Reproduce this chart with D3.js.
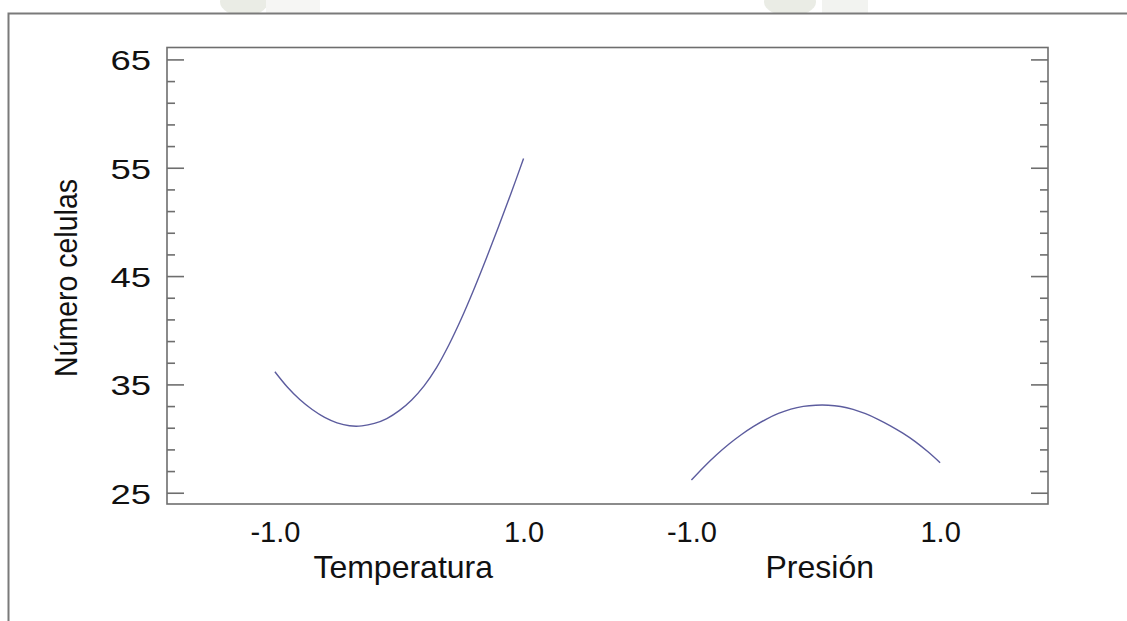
<!DOCTYPE html>
<html>
<head>
<meta charset="utf-8">
<script src="https://cdn.jsdelivr.net/npm/d3@7"></script>
<style>
  html, body { margin: 0; padding: 0; background: #fff; }
  svg { display: block; }
  text { font-family: "Liberation Sans", Arial, sans-serif; fill: #111; }
</style>
</head>
<body>
<svg id="chart" width="1127" height="621"></svg>
<script>
// Factors shown side by side, each over its coded range -1 .. 1
const factors = ["Temperatura", "Presión"];
const codedX = [-1.0, -0.9, -0.8, -0.7, -0.6, -0.5, -0.4, -0.3, -0.2, -0.1, 0.0,
                 0.1, 0.2, 0.3, 0.4, 0.5, 0.6, 0.7, 0.8, 0.9, 1.0];

// Predicted response along each factor
const tempValues = [36.17, 34.76, 33.60, 32.68, 31.95, 31.45, 31.18, 31.17, 31.40, 31.85, 32.58,
                    33.57, 34.87, 36.55, 38.66, 41.08, 43.76, 46.62, 49.60, 52.66, 55.86];
const presValues = [26.17, 27.38, 28.48, 29.47, 30.35, 31.12, 31.78, 32.32, 32.72, 32.97, 33.08,
                    33.08, 32.96, 32.70, 32.30, 31.78, 31.18, 30.50, 29.72, 28.80, 27.77];

const yMajorTicks = [25, 35, 45, 55, 65];
const yMinorTicks = [27, 29, 31, 33, 37, 39, 41, 43, 47, 49, 51, 53, 57, 59, 61, 63];
const xTickLabels = ["-1.0", "1.0"];
const yTitle = "Número celulas";

const svg = d3.select("#chart");
const W = 1127, H = 621;
const plot = { left: 167, top: 47.5, right: 1048, bottom: 504 };

// faint watermark remnants above the frame
const wm = svg.append("g").attr("opacity", 0.55);
wm.append("ellipse").attr("cx", 244).attr("cy", 2).attr("rx", 24).attr("ry", 14).attr("fill", "#d9ddd0");
wm.append("rect").attr("x", 266).attr("y", 0).attr("width", 54).attr("height", 13).attr("fill", "#f0f0ec");
wm.append("ellipse").attr("cx", 790).attr("cy", 2).attr("rx", 26).attr("ry", 14).attr("fill", "#d9ddd0");
wm.append("rect").attr("x", 822).attr("y", 0).attr("width", 46).attr("height", 13).attr("fill", "#e9eae4");

// outer frame
svg.append("rect")
  .attr("x", 8.5).attr("y", 13.5)
  .attr("width", W + 20).attr("height", H + 20)
  .attr("fill", "#fff")
  .attr("stroke", "#7a7a7a").attr("stroke-width", 2);

// scales
const xBand = d3.scaleBand()
  .domain(factors)
  .range([plot.left, plot.right])
  .paddingInner(0.403)
  .paddingOuter(0.259);

const xSub = f => d3.scaleLinear()
  .domain([-1, 1])
  .range([xBand(f), xBand(f) + xBand.bandwidth()]);

const y = d3.scaleLinear()
  .domain([23.96, 66.1])
  .range([plot.bottom, plot.top]);

const axisColor = "#6e6e6e";

// plot frame
svg.append("rect")
  .attr("x", plot.left).attr("y", plot.top)
  .attr("width", plot.right - plot.left).attr("height", plot.bottom - plot.top)
  .attr("fill", "none").attr("stroke", axisColor).attr("stroke-width", 1.6);

// left axis: major ticks with labels, minor ticks
const leftMajor = svg.append("g")
  .attr("transform", `translate(${plot.left},0)`)
  .call(d3.axisLeft(y).tickValues(yMajorTicks).tickSizeInner(-17).tickSizeOuter(0).tickPadding(16).tickFormat(d3.format("d")));
const leftMinor = svg.append("g")
  .attr("transform", `translate(${plot.left},0)`)
  .call(d3.axisLeft(y).tickValues(yMinorTicks).tickSizeInner(-8).tickSizeOuter(0).tickFormat(""));

// right axis: ticks only
const rightMajor = svg.append("g")
  .attr("transform", `translate(${plot.right},0)`)
  .call(d3.axisRight(y).tickValues(yMajorTicks).tickSizeInner(-17).tickSizeOuter(0).tickFormat(""));
const rightMinor = svg.append("g")
  .attr("transform", `translate(${plot.right},0)`)
  .call(d3.axisRight(y).tickValues(yMinorTicks).tickSizeInner(-8).tickSizeOuter(0).tickFormat(""));

[leftMajor, leftMinor, rightMajor, rightMinor].forEach(g => {
  g.select(".domain").remove();
  g.selectAll(".tick line").attr("stroke", axisColor).attr("stroke-width", 1.6);
});
// wide numerals on the value axis
leftMajor.selectAll(".tick text")
  .attr("font-family", "'Liberation Sans', Arial, sans-serif")
  .attr("font-size", 28.5)
  .attr("fill", "#111")
  .attr("dy", "0.36em")
  .attr("x", 0)
  .attr("transform", "translate(-16,0) scale(1.28,1)");

// bottom labels for each factor
factors.forEach(f => {
  const xs = xSub(f);
  const g = svg.append("g").attr("transform", `translate(0,${plot.bottom})`)
    .call(d3.axisBottom(xs).tickValues([-1, 1]).tickSize(0).tickPadding(0)
      .tickFormat((d, i) => xTickLabels[i]));
  g.select(".domain").remove();
  g.selectAll(".tick text")
    .attr("font-family", "'Liberation Sans', Arial, sans-serif")
    .attr("font-size", 29)
    .attr("fill", "#111")
    .attr("dy", null)
    .attr("y", 38);

  svg.append("text")
    .attr("x", (xs(-1) + xs(1)) / 2 + 4)
    .attr("y", 578)
    .attr("text-anchor", "middle")
    .attr("font-size", 32)
    .text(f);
});

// y-axis title
svg.append("text")
  .attr("transform", `translate(77,278) rotate(-90) scale(1,1.12)`)
  .attr("text-anchor", "middle")
  .attr("font-size", 28.5)
  .text(yTitle);

// response curves
const series = [
  { factor: factors[0], values: tempValues },
  { factor: factors[1], values: presValues }
];
series.forEach(s => {
  const xs = xSub(s.factor);
  const line = d3.line()
    .x((d, i) => xs(codedX[i]))
    .y(d => y(d))
    .curve(d3.curveCatmullRom.alpha(0.5));
  svg.append("path")
    .datum(s.values)
    .attr("d", line)
    .attr("fill", "none")
    .attr("stroke", "#5c5c9e")
    .attr("stroke-width", 1.4);
});
</script>
</body>
</html>
